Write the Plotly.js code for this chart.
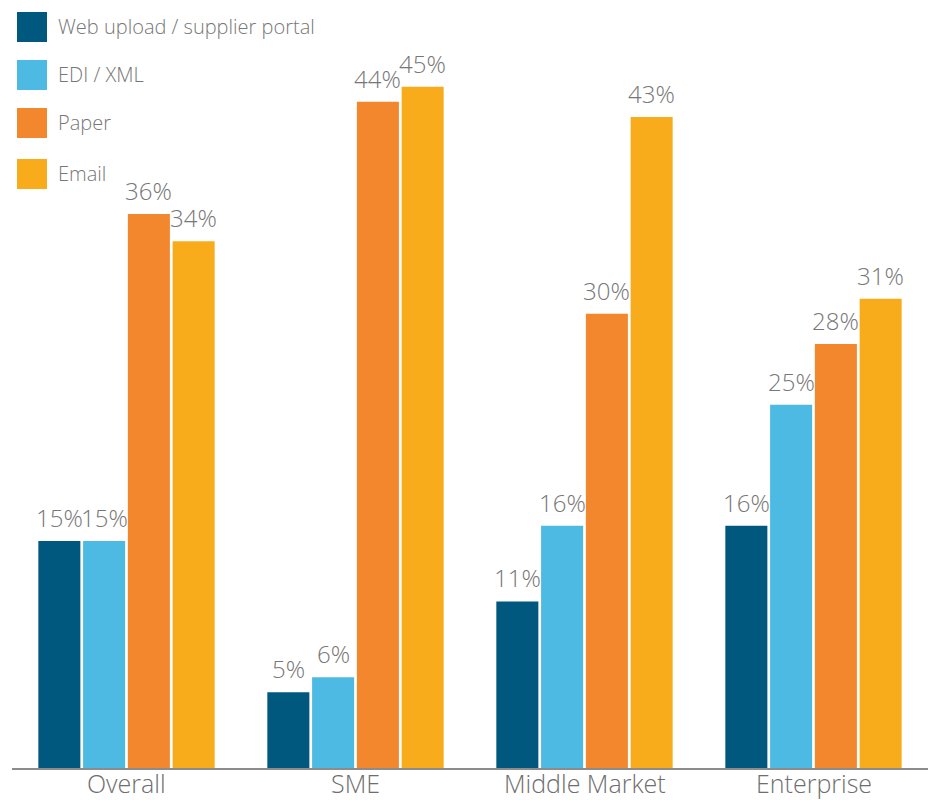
<!DOCTYPE html>
<html>
<head>
<meta charset="utf-8">
<script src="https://cdn.plot.ly/plotly-3.0.1.min.js"></script>
<style>html,body{margin:0;padding:0;background:#fff;}#chart{width:930px;height:800px;}</style>
</head>
<body>
<div id="chart"></div>
<script>
// ---- data ----
const categories = ['Overall', 'SME', 'Middle Market', 'Enterprise'];
const seriesNames = ['Web upload / supplier portal', 'EDI / XML', 'Paper', 'Email'];
const webUpload = [15, 5, 11, 16];
const ediXml = [15, 6, 16, 24];
const paper = [36.6, 44, 30, 28];
const email = [34.8, 45, 43, 31];
const webLabels = ['15%', '5%', '11%', '16%'];
const ediLabels = ['15%', '6%', '16%', '25%'];
const paperLabels = ['36%', '44%', '30%', '28%'];
const emailLabels = ['34%', '45%', '43%', '31%'];

// ---- styles ----
const colors = ['#00587F', '#4DBAE4', '#F3872E', '#F9AC1B'];
const FONT = '"Open Sans", "Noto Sans", sans-serif';
const textColor = '#777777';
const W = 930, H = 800;
const M = {l: 12, r: 2, t: 11, b: 32};
const bargap = 0.218, bargroupgap = 0.061;

const seriesValues = [webUpload, ediXml, paper, email];
const seriesLabels = [webLabels, ediLabels, paperLabels, emailLabels];

const traces = seriesValues.map((vals, k) => ({
  type: 'bar',
  name: seriesNames[k],
  x: categories,
  y: vals,
  marker: {color: colors[k], line: {width: 0}},
  hoverinfo: 'x+y+name'
}));

// data labels placed over each bar through the axes
const slot = (1 - bargap) / seriesValues.length;
const annotations = [];
seriesValues.forEach((vals, k) => {
  const off = (k - (seriesValues.length - 1) / 2) * slot;
  vals.forEach((v, i) => {
    annotations.push({
      x: i + off, y: v, xref: 'x', yref: 'y',
      text: seriesLabels[k][i], showarrow: false,
      yanchor: 'bottom', xanchor: 'center', yshift: 5,
      font: {family: FONT, size: 24, color: textColor, weight: 300}
    });
  });
});

// category labels under the axis
categories.forEach((c, i) => {
  annotations.push({
    x: i, y: 0, xref: 'x', yref: 'y', text: c, showarrow: false,
    yanchor: 'top', xanchor: 'center', yshift: 4,
    font: {family: FONT, size: 25, color: '#6e6e6e', weight: 300}
  });
});

// custom legend (large square swatches)
const pw = W - M.l - M.r, ph = H - M.t - M.b;
const px = x => (x - M.l) / pw;
const py = y => (H - M.b - y) / ph;
const legendTops = [12, 60, 108, 159];
const shapes = [];
seriesNames.forEach((name, k) => {
  const top = legendTops[k];
  shapes.push({type: 'rect', xref: 'paper', yref: 'paper',
    x0: px(17), x1: px(47), y0: py(top + 30), y1: py(top),
    fillcolor: colors[k], line: {width: 0}});
  annotations.push({xref: 'paper', yref: 'paper', x: px(56), y: py(top + 15),
    xanchor: 'left', yanchor: 'middle', showarrow: false, text: name,
    font: {family: FONT, size: 20, color: textColor, weight: 300}});
});

const layout = {
  width: W, height: H,
  margin: M,
  paper_bgcolor: '#ffffff', plot_bgcolor: '#ffffff',
  barmode: 'group', bargap: bargap, bargroupgap: bargroupgap,
  showlegend: false,
  xaxis: {
    type: 'category', showline: true, linecolor: '#8c8c8c', linewidth: 2,
    ticks: '', showticklabels: false, showgrid: false, zeroline: false, automargin: false
  },
  yaxis: {range: [0, 50], visible: false, showgrid: false, zeroline: false, fixedrange: true},
  shapes: shapes,
  annotations: annotations
};

Plotly.newPlot('chart', traces, layout, {displayModeBar: false, staticPlot: true});
</script>
</body>
</html>
